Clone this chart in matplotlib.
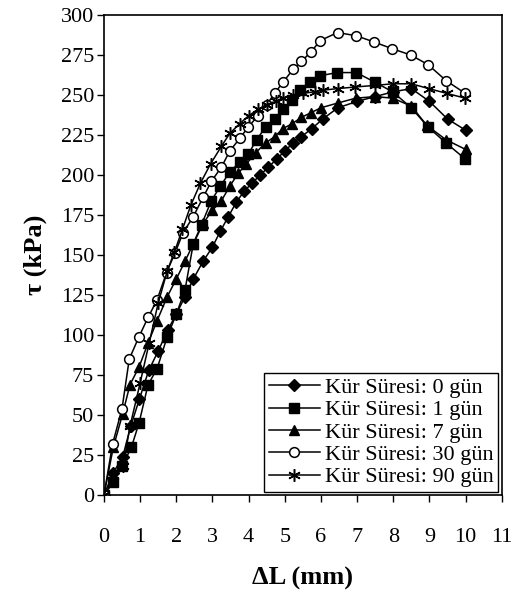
import matplotlib
matplotlib.use("Agg")
import matplotlib.pyplot as plt

plt.rcParams['font.family'] = ['Liberation Serif', 'DejaVu Serif']

# --- Data ---
x_0 = [0, 0.26, 0.52, 0.74, 0.98, 1.24, 1.5, 1.76, 2.0, 2.24, 2.47, 2.74, 3.0, 3.22,
       3.44, 3.66, 3.88, 4.1, 4.32, 4.55, 4.78, 5.0, 5.23, 5.46, 5.75, 6.05, 6.47,
       7.0, 7.5, 8.0, 8.5, 9.0, 9.5, 10.0]
y_0 = [0, 14, 24, 43, 60, 78, 90, 103, 113, 124, 135, 146, 155, 165,
       174, 183, 190, 195, 200, 205, 210, 215, 220, 224, 229, 235, 242,
       246, 249, 252, 254, 246, 235, 228]

x_1 = [0, 0.26, 0.5, 0.76, 0.97, 1.22, 1.47, 1.75, 2.0, 2.24, 2.47, 2.7, 2.97, 3.22,
       3.48, 3.76, 3.99, 4.22, 4.47, 4.72, 4.95, 5.2, 5.43, 5.69, 5.97, 6.45, 6.98,
       7.49, 7.98, 8.5, 8.96, 9.46, 9.99]
y_1 = [0, 8, 18, 30, 45, 69, 79, 99, 113, 128, 157, 169, 184, 193,
       202, 208, 213, 222, 230, 235, 241, 247, 253, 258, 262, 264, 264,
       258, 252, 242, 230, 220, 210]

x_7 = [0, 0.26, 0.52, 0.72, 0.97, 1.22, 1.47, 1.75, 2.0, 2.24, 2.47, 2.75, 3.0, 3.25,
       3.48, 3.71, 3.94, 4.2, 4.47, 4.72, 4.95, 5.2, 5.46, 5.73, 6.0, 6.47, 6.96,
       7.5, 7.99, 8.5, 8.93, 9.46, 10.0]
y_7 = [0, 30, 51, 69, 80, 95, 109, 124, 135, 146, 157, 170, 178, 184,
       193, 201, 207, 214, 220, 224, 229, 232, 236, 239, 242, 245, 248,
       249, 248, 243, 231, 222, 216]

x_30 = [0, 0.24, 0.5, 0.7, 0.97, 1.22, 1.47, 1.73, 1.96, 2.19, 2.47, 2.74, 2.97, 3.25,
        3.48, 3.76, 3.99, 4.26, 4.5, 4.72, 4.95, 5.23, 5.46, 5.73, 5.98, 6.46, 6.98,
        7.48, 7.96, 8.48, 8.96, 9.46, 9.99]
y_30 = [0, 32, 54, 85, 99, 111, 122, 139, 151, 164, 174, 186, 196, 205,
        215, 223, 230, 237, 244, 251, 258, 266, 271, 277, 284, 289, 287,
        283, 279, 275, 269, 259, 251]

x_90 = [0, 0.25, 0.53, 0.72, 1.0, 1.25, 1.5, 1.75, 1.95, 2.17, 2.4, 2.67, 2.95, 3.25,
        3.48, 3.75, 4.0, 4.26, 4.5, 4.75, 4.95, 5.23, 5.5, 5.83, 6.06, 6.47, 6.95,
        7.5, 7.99, 8.5, 8.98, 9.48, 9.99]
y_90 = [0, 12, 18, 43, 70, 95, 120, 140, 152, 166, 181, 195, 207, 218,
        226, 232, 237, 241, 244, 246, 248, 250, 251, 252, 253, 254, 255,
        256, 257, 257, 254, 251, 248]

labels = ['Kür Süresi: 0 gün', 'Kür Süresi: 1 gün', 'Kür Süresi: 7 gün',
          'Kür Süresi: 30 gün', 'Kür Süresi: 90 gün']

# --- Plot ---
fig = plt.figure(figsize=(5.12, 5.98), dpi=100)
ax = fig.add_axes([0.203, 0.172, 0.777, 0.803])

lw = 1.1
ax.plot(x_0, y_0, color='black', lw=lw, marker='D', ms=6, mfc='black', mec='black', label=labels[0])
ax.plot(x_1, y_1, color='black', lw=lw, marker='s', ms=6.5, mfc='black', mec='black', label=labels[1])
ax.plot(x_7, y_7, color='black', lw=lw, marker='^', ms=7.5, mfc='black', mec='black', label=labels[2])
ax.plot(x_30, y_30, color='black', lw=lw, marker='o', ms=7, mfc='white', mec='black', mew=1.1, label=labels[3])
ax.plot(x_90, y_90, color='black', lw=lw, marker=(6, 2, 0), ms=9, mec='black', mew=1.1, label=labels[4])

ax.set_xlim(0, 11)
ax.set_ylim(0, 300)
ax.set_xticks(range(0, 12))
ax.set_yticks(range(0, 301, 25))

for s in ax.spines.values():
    s.set_linewidth(1.2)

ax.tick_params(direction='out', length=5, width=1, labelsize=16)
ax.tick_params(axis='x', pad=19)
ax.tick_params(axis='y', pad=2)

ax.set_xlabel('ΔL (mm)', fontsize=19, fontweight='bold', labelpad=14)
ax.set_ylabel('τ (kPa)', fontsize=19, fontweight='bold', labelpad=10)

leg = ax.legend(loc='lower right', fontsize=16, frameon=True, fancybox=False,
                edgecolor='black', framealpha=1, handlelength=2.3, handletextpad=0.25,
                labelspacing=0.08, borderpad=0.2, borderaxespad=0.15)
leg.get_frame().set_linewidth(1.0)

fig.savefig('out.png', dpi=100)
